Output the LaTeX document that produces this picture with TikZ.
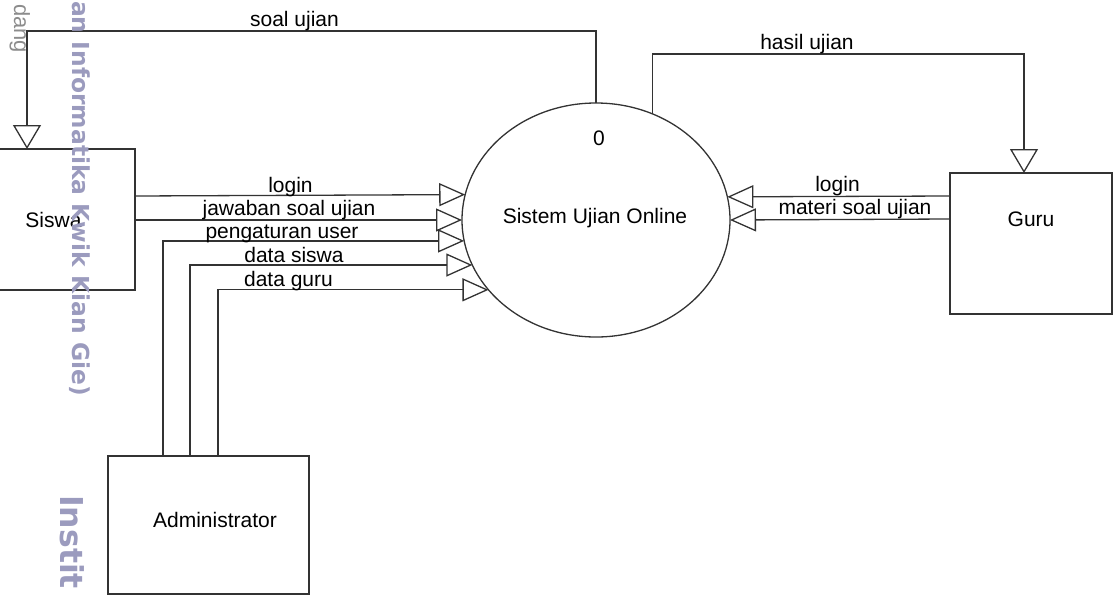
\documentclass[tikz,border=0pt]{standalone}
\usepackage{fontspec}
\setmainfont{Liberation Sans}
\newfontfamily\wmfont{DejaVu Sans}
\usetikzlibrary{arrows.meta,shapes.geometric}
\definecolor{lc}{HTML}{333333}
\definecolor{wmc}{RGB}{155,155,190}
\definecolor{wmg}{RGB}{140,140,140}
\begin{document}
\begin{tikzpicture}[x=1pt,y=-1pt,
  ln/.style={draw=lc,line width=1.3pt},
  flow/.style={ln,-{Triangle[open,length=26pt,width=23pt]}},
  flowdown/.style={ln,-{Triangle[open,length=24pt,width=28pt]}},
  ent/.style={ln,rectangle,inner sep=0pt,outer sep=0pt,font=\fontsize{21}{24}\selectfont},
  txt/.style={font=\fontsize{21}{24}\selectfont,text=black,inner sep=0pt},
  lbl/.style={txt,anchor=base},
  wm/.style={text=wmc,inner sep=0pt,rotate=-90,anchor=base west}]
\path[use as bounding box] (0,0) rectangle (1113,595);
\clip (0,0) rectangle (1113,595);
% process
\node[ellipse,ln,minimum width=268pt,minimum height=234pt,inner sep=0pt,outer sep=0pt] (sys) at (596,220) {};
\node[txt] (sysnum) at (599,138) {0};
\node[txt] (sysname) at (595,218) {Sistem Ujian Online};
% entities
\node[ent,minimum width=163pt,minimum height=141pt] (siswa) at (53.5,219.5) {Siswa};
\node[ent,minimum width=162pt,minimum height=141pt] (guru) at (1031,243.5) {};
\node[txt] (gurutxt) at (1031,219.5) {Guru};
\node[ent,minimum width=201pt,minimum height=138pt] (admin) at (208.5,525) {};
\node[txt] (admintxt) at (215,520) {Administrator};
% flows
\draw[flowdown] (sys.north) |- (27,31) -- (siswa.north -| 27,0);
\draw[flowdown] (sys.62.73) |- (1024,54) -- (guru.north -| 1024,0);
\draw[flow] (siswa.east |- 0,196) -- (sys.169.63);
\draw[flow] (siswa.east |- 0,220) -- (sys.west);
\draw[flow] (admin.north -| 163,0) |- (sys.189.93);
\draw[flow] (admin.north -| 190,0) |- (sys.200.96);
\draw[flow] (admin.north -| 218,0) |- (sys.213.69);
\draw[flow] (guru.west |- 0,196) -- (sys.10.37);
\draw[flow] (guru.west |- 0,219) -- (sys.0.5);
% labels
\node[lbl] (l1) at (294.5,26) {soal ujian};
\node[lbl] (l2) at (807,49) {hasil ujian};
\node[lbl] (l3) at (290.5,192) {login};
\node[lbl] (l4) at (289,215) {jawaban soal ujian};
\node[lbl] (l5) at (282,238) {pengaturan user};
\node[lbl] (l6) at (294,262) {data siswa};
\node[lbl] (l7) at (288.5,286) {data guru};
\node[lbl] (l8) at (837.5,191) {login};
\node[lbl] (l9) at (855,214) {materi soal ujian};
% watermark
\node[wm,font=\wmfont\bfseries\fontsize{23.4}{26}\selectfont] (wm1) at (72,1) {an Informatika Kwik Kian Gie)};
\node[wm,font=\wmfont\bfseries\fontsize{31.5}{34}\selectfont] (wm2) at (60,495) {Instit};
\node[wm,text=wmg,font=\fontsize{22}{24}\selectfont] (wm3) at (14,4) {dang};
\end{tikzpicture}
\end{document}
